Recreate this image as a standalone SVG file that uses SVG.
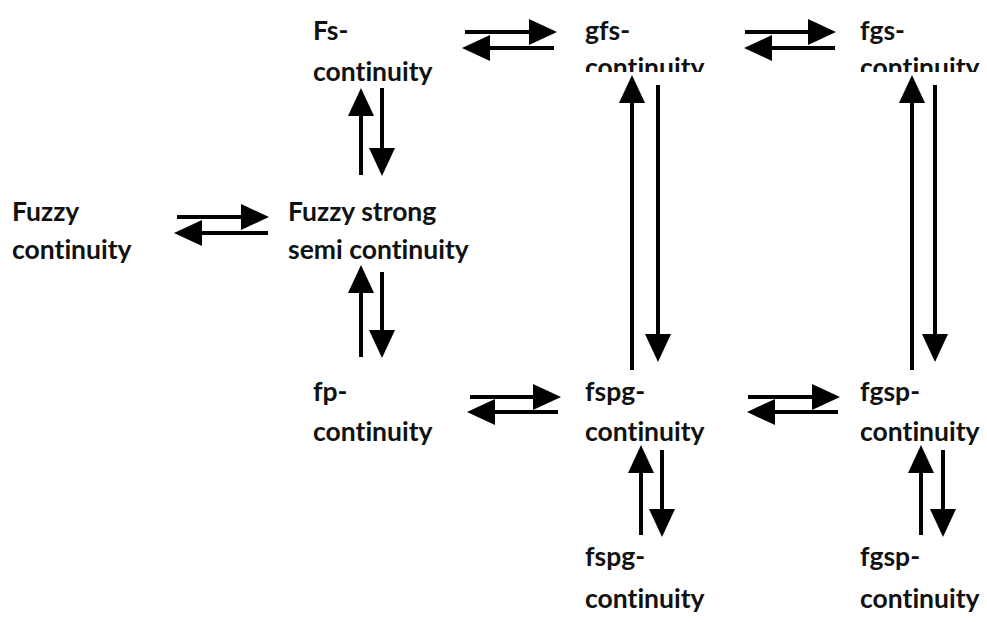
<svg xmlns="http://www.w3.org/2000/svg" width="987" height="622" viewBox="0 0 987 622">
<style>
text { font-family: Lato, "Open Sans", "Liberation Sans", sans-serif; font-weight: 700; font-size: 26.5px; fill: #111; font-variant-ligatures: none; font-feature-settings: "liga" 0, "dlig" 0; }
.c { stroke: #000; stroke-width: 4; fill: none; marker-end: url(#ah); }
</style>
<defs>
<marker id="ah" markerUnits="userSpaceOnUse" markerWidth="28" markerHeight="26" viewBox="0 0 28 26" refX="0" refY="13" orient="auto">
<path d="M0,0 L28,13 L0,26 Z" fill="#000"/>
</marker>
<clipPath id="cut"><rect x="0" y="0" width="987" height="72"/></clipPath>
</defs>
<rect width="987" height="622" fill="#fff"/>
<g id="n-fs"><text x="313" y="40">Fs-</text><text x="313" y="81">continuity</text></g>
<g id="n-gfs"><text x="585" y="40">gfs-</text><text x="585" y="77" clip-path="url(#cut)">continuity</text></g>
<g id="n-fgs"><text x="860" y="40">fgs-</text><text x="860" y="77" clip-path="url(#cut)">continuity</text></g>
<g id="n-fuzzy"><text x="12" y="221">Fuzzy</text><text x="12" y="259">continuity</text></g>
<g id="n-fss"><text x="288" y="221">Fuzzy strong</text><text x="288" y="259">semi continuity</text></g>
<g id="n-fp"><text x="313" y="401">fp-</text><text x="313" y="441">continuity</text></g>
<g id="n-fspg"><text x="585" y="401">fspg-</text><text x="585" y="441">continuity</text></g>
<g id="n-fgsp"><text x="860" y="401">fgsp-</text><text x="860" y="441">continuity</text></g>
<g id="n-fspg2"><text x="585" y="566">fspg-</text><text x="585" y="608">continuity</text></g>
<g id="n-fgsp2"><text x="860" y="566">fgsp-</text><text x="860" y="608">continuity</text></g>
<g id="connectors">
<line class="c" x1="465" y1="32" x2="529" y2="32"/>
<line class="c" x1="554" y1="48" x2="490" y2="48"/>
<line class="c" x1="745" y1="32" x2="808" y2="32"/>
<line class="c" x1="835" y1="48" x2="772" y2="48"/>
<line class="c" x1="177" y1="217" x2="241" y2="217"/>
<line class="c" x1="268" y1="233" x2="202" y2="233"/>
<line class="c" x1="470" y1="397" x2="533" y2="397"/>
<line class="c" x1="558" y1="412" x2="495" y2="412"/>
<line class="c" x1="748" y1="397" x2="812" y2="397"/>
<line class="c" x1="838" y1="412" x2="775" y2="412"/>
<line class="c" x1="361" y1="175" x2="361" y2="116"/>
<line class="c" x1="382" y1="88" x2="382" y2="148"/>
<line class="c" x1="361" y1="357" x2="361" y2="293"/>
<line class="c" x1="382" y1="272" x2="382" y2="330"/>
<line class="c" x1="632" y1="370" x2="632" y2="103"/>
<line class="c" x1="658" y1="85" x2="658" y2="334"/>
<line class="c" x1="912" y1="370" x2="912" y2="103"/>
<line class="c" x1="935" y1="85" x2="935" y2="334"/>
<line class="c" x1="641" y1="535" x2="641" y2="473"/>
<line class="c" x1="662" y1="450" x2="662" y2="509"/>
<line class="c" x1="921" y1="535" x2="921" y2="473"/>
<line class="c" x1="943" y1="450" x2="943" y2="509"/>
</g>
</svg>
